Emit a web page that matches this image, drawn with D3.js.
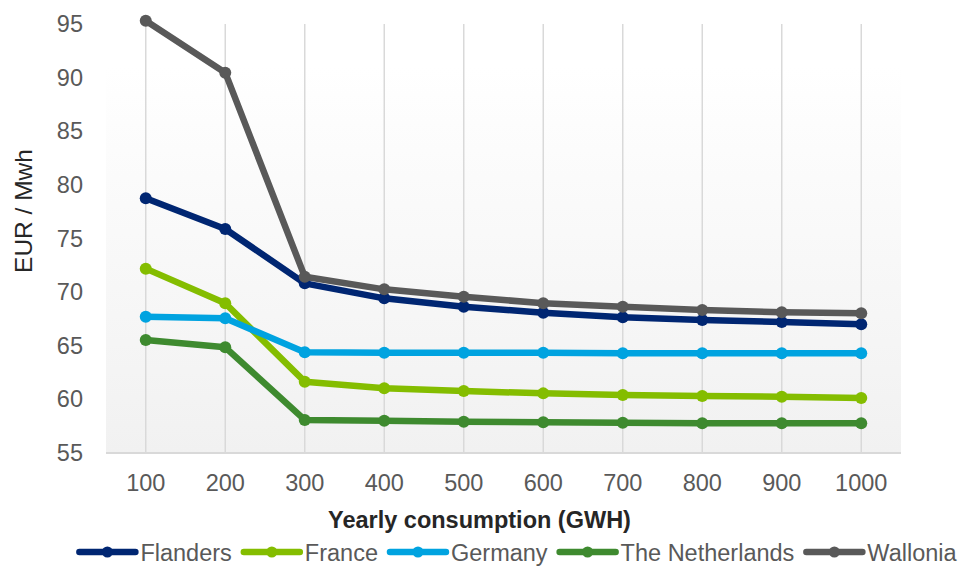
<!DOCTYPE html>
<html>
<head>
<meta charset="utf-8">
<script src="https://cdn.jsdelivr.net/npm/d3@7"></script>
<style>
  html, body { margin: 0; padding: 0; background: #ffffff; }
  svg { display: block; }
  text { font-family: "Liberation Sans", Arial, sans-serif; }
</style>
</head>
<body>
<svg id="chart" width="963" height="566"></svg>
<script>
// ---- data ----
const categories = ["100", "200", "300", "400", "500", "600", "700", "800", "900", "1000"];
const seriesNames = ["Flanders", "France", "Germany", "The Netherlands", "Wallonia"];
const flanders    = [78.75, 75.89, 70.82, 69.42, 68.64, 68.08, 67.65, 67.40, 67.21, 67.00];
const france      = [72.19, 68.96, 61.65, 61.03, 60.78, 60.56, 60.40, 60.31, 60.25, 60.13];
const germany     = [67.71, 67.56, 64.39, 64.35, 64.35, 64.35, 64.30, 64.30, 64.30, 64.30];
const netherlands = [65.54, 64.85, 58.08, 58.01, 57.92, 57.86, 57.82, 57.77, 57.77, 57.77];
const wallonia    = [95.30, 90.46, 71.44, 70.26, 69.57, 68.96, 68.64, 68.33, 68.12, 68.03];
const yTicks = [55, 60, 65, 70, 75, 80, 85, 90, 95];
const xTitle = "Yearly consumption (GWH)";
const yTitle = "EUR / Mwh";

// ---- styling ----
const colors = ["#002672", "#84bd00", "#00a3e0", "#3e8a2f", "#595959"];
const seriesValues = [flanders, france, germany, netherlands, wallonia];
const series = seriesNames.map((n, i) => ({ name: n, color: colors[i], values: seriesValues[i] }));

const svg = d3.select("#chart");
const plot = { left: 106, right: 901, top: 24, bottom: 453 };

const x = d3.scaleBand().domain(categories).range([plot.left, plot.right]).padding(0);
const y = d3.scaleLinear().domain([55, 95]).range([plot.bottom, plot.top]);
const cx = c => x(c) + x.bandwidth() / 2;

// background gradient
const defs = svg.append("defs");
const grad = defs.append("linearGradient").attr("id", "bg").attr("x1", 0).attr("y1", 0).attr("x2", 0).attr("y2", 1);
grad.append("stop").attr("offset", "0").attr("stop-color", "#ffffff");
grad.append("stop").attr("offset", "0.1").attr("stop-color", "#ffffff");
grad.append("stop").attr("offset", "1").attr("stop-color", "#f1f1f1");

svg.append("rect")
  .attr("x", plot.left).attr("y", plot.top)
  .attr("width", plot.right - plot.left).attr("height", plot.bottom - plot.top)
  .attr("fill", "url(#bg)");

// vertical gridlines at category centers
svg.append("g").selectAll("line").data(categories).join("line")
  .attr("x1", d => cx(d)).attr("x2", d => cx(d))
  .attr("y1", plot.top).attr("y2", plot.bottom)
  .attr("stroke", "#d9d9d9").attr("stroke-width", 1.5);

// x axis line
svg.append("line")
  .attr("x1", plot.left).attr("x2", plot.right)
  .attr("y1", plot.bottom).attr("y2", plot.bottom)
  .attr("stroke", "#d9d9d9").attr("stroke-width", 2);

// y axis (labels only)
const yAxis = d3.axisLeft(y).tickValues(yTicks).tickSize(0).tickPadding(0).tickFormat(d3.format("d"));
const gy = svg.append("g").attr("transform", `translate(83,0)`).call(yAxis);
gy.select(".domain").remove();
gy.selectAll("text").attr("font-size", 23.5).attr("fill", "#595959")
  .style("font-family", '"Liberation Sans", Arial, sans-serif');

// x axis (labels only)
const xAxis = d3.axisBottom(x).tickSize(0).tickPadding(0);
const gx = svg.append("g").attr("transform", `translate(0,${plot.bottom})`).call(xAxis);
gx.select(".domain").remove();
gx.selectAll("text").attr("font-size", 23.5).attr("fill", "#595959")
  .attr("dy", null).attr("y", 38)
  .style("font-family", '"Liberation Sans", Arial, sans-serif');

// axis titles
svg.append("text")
  .attr("x", (plot.left + plot.right) / 2 - 24).attr("y", 528)
  .attr("text-anchor", "middle").attr("font-size", 23.5).attr("font-weight", "bold")
  .attr("fill", "#262626").text(xTitle);

svg.append("text")
  .attr("transform", "translate(32,211) rotate(-90)")
  .attr("text-anchor", "middle").attr("font-size", 24.5)
  .attr("fill", "#262626").text(yTitle);

// lines + markers
const line = d3.line().x((d, i) => cx(categories[i])).y(d => y(d));
const gs = svg.append("g").selectAll("g").data(series).join("g");
gs.append("path")
  .attr("d", d => line(d.values))
  .attr("fill", "none").attr("stroke", d => d.color)
  .attr("stroke-width", 6.5).attr("stroke-linejoin", "round");
gs.each(function(s) {
  d3.select(this).selectAll("circle").data(s.values).join("circle")
    .attr("cx", (d, i) => cx(categories[i])).attr("cy", d => y(d))
    .attr("r", 6).attr("fill", s.color);
});

// legend
const legend = svg.append("g");
let lx = 0;
series.forEach(s => {
  const g = legend.append("g").attr("transform", `translate(${lx},0)`);
  g.append("line").attr("x1", 0).attr("x2", 56).attr("y1", 0).attr("y2", 0)
    .attr("stroke", s.color).attr("stroke-width", 6.5).attr("stroke-linecap", "round");
  g.append("circle").attr("cx", 28).attr("cy", 0).attr("r", 5.5).attr("fill", s.color);
  const t = g.append("text").attr("x", 61).attr("y", 8.5)
    .attr("font-size", 23.5).attr("fill", "#595959").text(s.name);
  const w = t.node().getComputedTextLength();
  lx += 61 + w + 12;
});
const totalW = lx - 12;
legend.attr("transform", `translate(${518 - totalW / 2},552)`);
</script>
</body>
</html>
